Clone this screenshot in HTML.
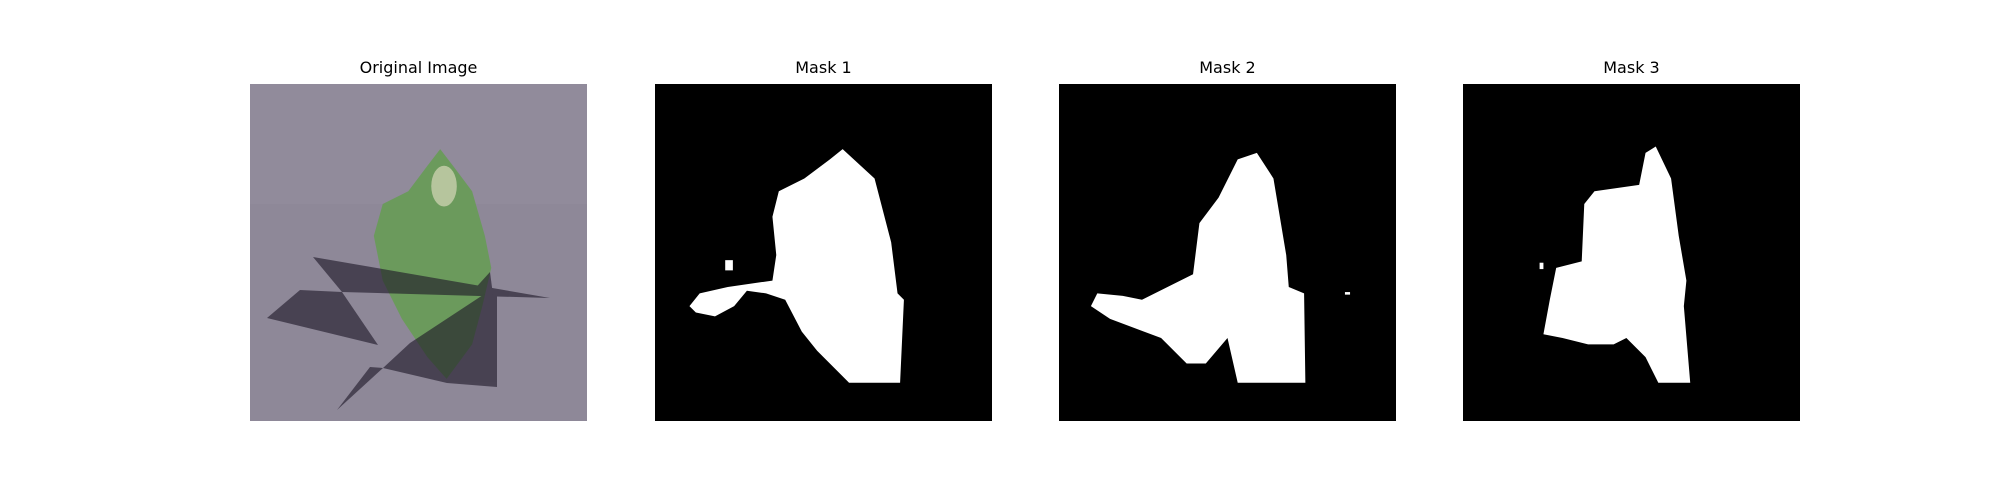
<!DOCTYPE html>
<html><head><meta charset="utf-8"><style>
body{margin:0;width:2000px;height:500px;background:#fff;position:relative;overflow:hidden;font-family:"DejaVu Sans","Liberation Sans",sans-serif}
.t{position:absolute;top:58px;width:337px;text-align:center;font-size:16px;color:#000}
svg{position:absolute;top:84px}
</style></head><body>
<div class="t" style="left:250px">Original Image</div>
<div class="t" style="left:655px">Mask 1</div>
<div class="t" style="left:1059px">Mask 2</div>
<div class="t" style="left:1463px">Mask 3</div>

<svg style="left:250px" width="337" height="337" viewBox="0 0 337 337">
<rect width="337" height="337" fill="#8e8898"/>
<rect width="337" height="120" fill="#938d9d" opacity="0.6"/>
<g transform="scale(1.2765)">
<polygon fill="#6b9a5c" points="149,51 159,64 174,84 184,119 189,144 182,174 174,204 154,231 139,214 119,184 104,154 97,119 104,94 124,84 139,64"/>
<ellipse cx="152" cy="80" rx="10" ry="16" fill="#c9cfae" opacity="0.8"/>
</g>
<g fill="#1e1828" opacity="0.62">
<polygon points="63,173 300,214 92,208"/>
<polygon points="240,188 243,211 220,210"/>
<polygon points="17,234 50,206 92,208 128,261"/>
<polygon points="87,326 120,283 133,284 160,259 233,211 247,211 247,303 197,299 133,284"/>
</g>
</svg>

<svg style="left:655px" width="337" height="337" viewBox="0 0 264 264">
<rect width="264" height="264" fill="#000"/>
<polygon fill="#fff" points="147,51 172,74 185,124 190,164 195,169 192,234 152,234 127,209 115,194 102,169 87,164 72,162 62,174 47,182 32,179 27,174 35,164 57,159 92,154 95,134 92,104 97,84 117,74 137,59"/>
<rect x="55" y="138" width="6" height="8" fill="#fff"/>
</svg>

<svg style="left:1059px" width="337" height="337" viewBox="0 0 264 264">
<rect width="264" height="264" fill="#000"/>
<polygon fill="#fff" points="155,54 168,74 178,134 180,159 192,164 193,234 140,234 132,199 115,219 100,219 80,199 40,184 25,174 30,164 50,166 65,169 85,159 105,149 110,109 125,89 135,69 140,59"/>
<rect x="224" y="163" width="4" height="2" fill="#fff"/>
</svg>

<svg style="left:1463px" width="337" height="337" viewBox="0 0 264 264">
<rect width="264" height="264" fill="#000"/>
<polygon fill="#fff" points="151,49 163,74 169,119 175,154 173,174 178,234 153,234 143,214 128,199 118,204 98,204 78,199 63,196 68,169 73,144 93,139 95,94 103,84 138,79 143,54"/>
<rect x="60" y="140" width="3" height="5" fill="#fff"/>
</svg>
</body></html>
